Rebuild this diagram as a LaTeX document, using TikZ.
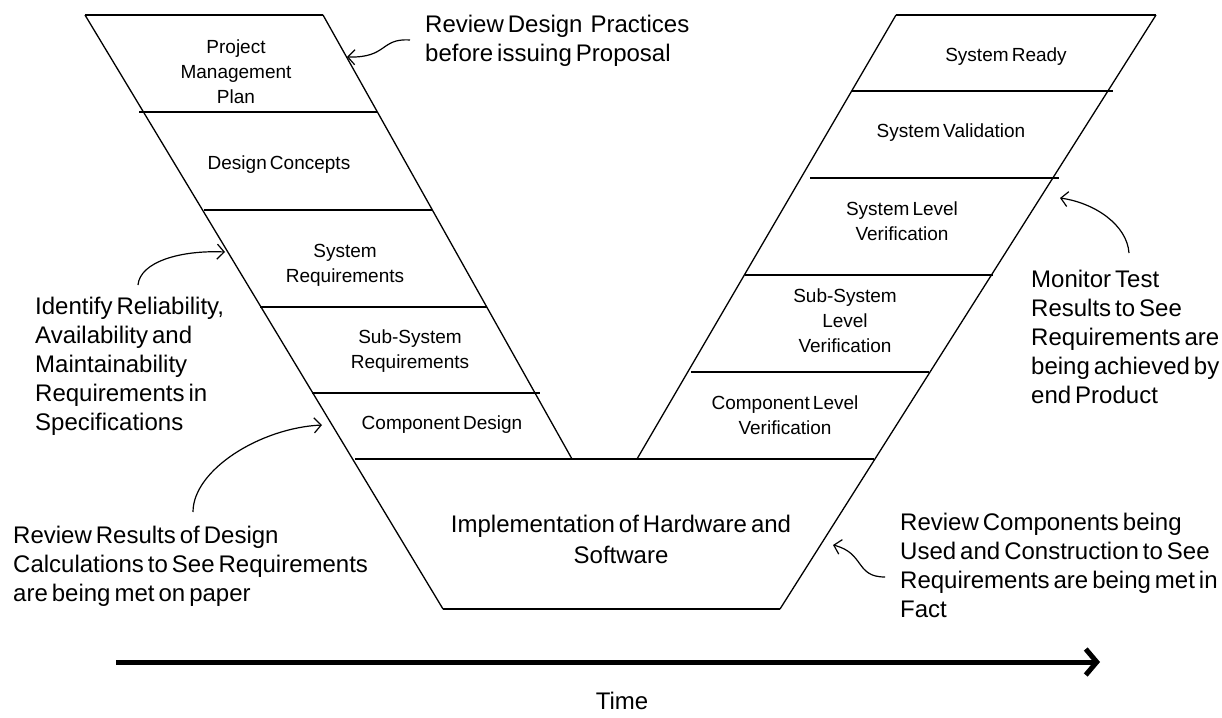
\documentclass[tikz,border=0pt]{standalone}
\usepackage{fontspec}
\setmainfont{Liberation Sans}[WordSpace=0.6]
\usetikzlibrary{arrows.meta}
\begin{document}
\begin{tikzpicture}[x=1pt,y=-1pt,
  edge/.style={line width=1.3pt},
  sep/.style={line width=2.6pt},
  small/.style={font={\fontsize{19}{25}\selectfont},align=center,inner sep=0pt},
  big/.style={font={\fontsize{24}{29}\selectfont},align=left,inner sep=0pt,anchor=west},
  annot/.style={line width=1.2pt,-{Straight Barb[length=7pt,width=15pt]}}]
\useasboundingbox (0,0) rectangle (1222,717);
\fill[white] (0,0) rectangle (1222,717);
% V outline
\draw[edge] (85,15) -- (443,609);
\draw[edge] (323,15) -- (572,459);
\draw[edge] (896,15) -- (637,459);
\draw[edge] (1156,15) -- (780,609);
% horizontal separators
\draw[sep] (85,15) -- (323,15);
\draw[sep] (139,112) -- (377,112);
\draw[sep] (204,210) -- (432,210);
\draw[sep] (260,307) -- (487,307);
\draw[sep] (312,393) -- (540,393);
\draw[sep] (355,459) -- (874,459);
\draw[sep] (443,609) -- (780,609);
\draw[sep] (896,15) -- (1156,15);
\draw[sep] (852,91) -- (1113,91);
\draw[sep] (810,178) -- (1059,178);
\draw[sep] (745,275) -- (993,275);
\draw[sep] (691,372) -- (929,372);
% band labels
\node[small] (pmp) at (236,72) {Project\\Management\\Plan};
\node[small] (dc) at (279,165) {Design Concepts};
\node[small] (sr) at (345,265) {System\\Requirements};
\node[small] (ssr) at (410,351) {Sub-System\\Requirements};
\node[small] (cd) at (442,425) {Component Design};
\node[small] (sready) at (1006,57) {System Ready};
\node[small] (sval) at (951,133) {System Validation};
\node[small] (slv) at (902,221) {System Level\\Verification};
\node[small] (sslv) at (845,321) {Sub-System\\Level\\Verification};
\node[small] (clv) at (785,415) {Component Level\\Verification};
\node[small,font={\fontsize{24}{31}\selectfont}] (impl) at (621,539) {Implementation of Hardware and\\Software};
% annotations
\node[big] (a1) at (425,41) {Review Design~ Practices\\before issuing Proposal};
\node[big] (a2) at (35,366) {Identify Reliability,\\Availability and\\Maintainability\\Requirements in\\Specifications};
\node[big] (a3) at (13,566) {Review Results of Design\\Calculations to See Requirements\\are being met on paper};
\node[big] (a4) at (1031,337) {Monitor Test\\Results to See\\Requirements are\\being achieved by\\end Product};
\node[big] (a5) at (900,565) {Review Components being\\Used and Construction to See\\Requirements are being met in\\Fact};
\node[font={\fontsize{24}{29}\selectfont},inner sep=0pt] (time) at (622,701) {Time};
% arrow coordinates
\coordinate (s1) at (410,40);  \coordinate (t1) at (347,57);
\coordinate (s2) at (138,285); \coordinate (t2) at (225,252);
\coordinate (s3) at (193,512); \coordinate (t3) at (322,425);
\coordinate (s4) at (1129,253);\coordinate (t4) at (1060,198);
\coordinate (s5) at (885,577); \coordinate (t5) at (833,545);
\coordinate (ts) at (116,662); \coordinate (te) at (1100,662);
\draw[annot] (s1) .. controls (380,38) and (388,58) .. (t1);
\draw[annot] (s2) .. controls (140,262) and (180,250) .. (t2);
\draw[annot] (s3) .. controls (193,470) and (260,428) .. (t3);
\draw[annot] (s4) .. controls (1127,225) and (1095,203) .. (t4);
\draw[annot] (s5) .. controls (855,577) and (865,553) .. (t5);
\draw[line width=5pt,-{Straight Barb[length=11pt,width=26pt]}] (ts) -- (te);
\end{tikzpicture}
\end{document}
